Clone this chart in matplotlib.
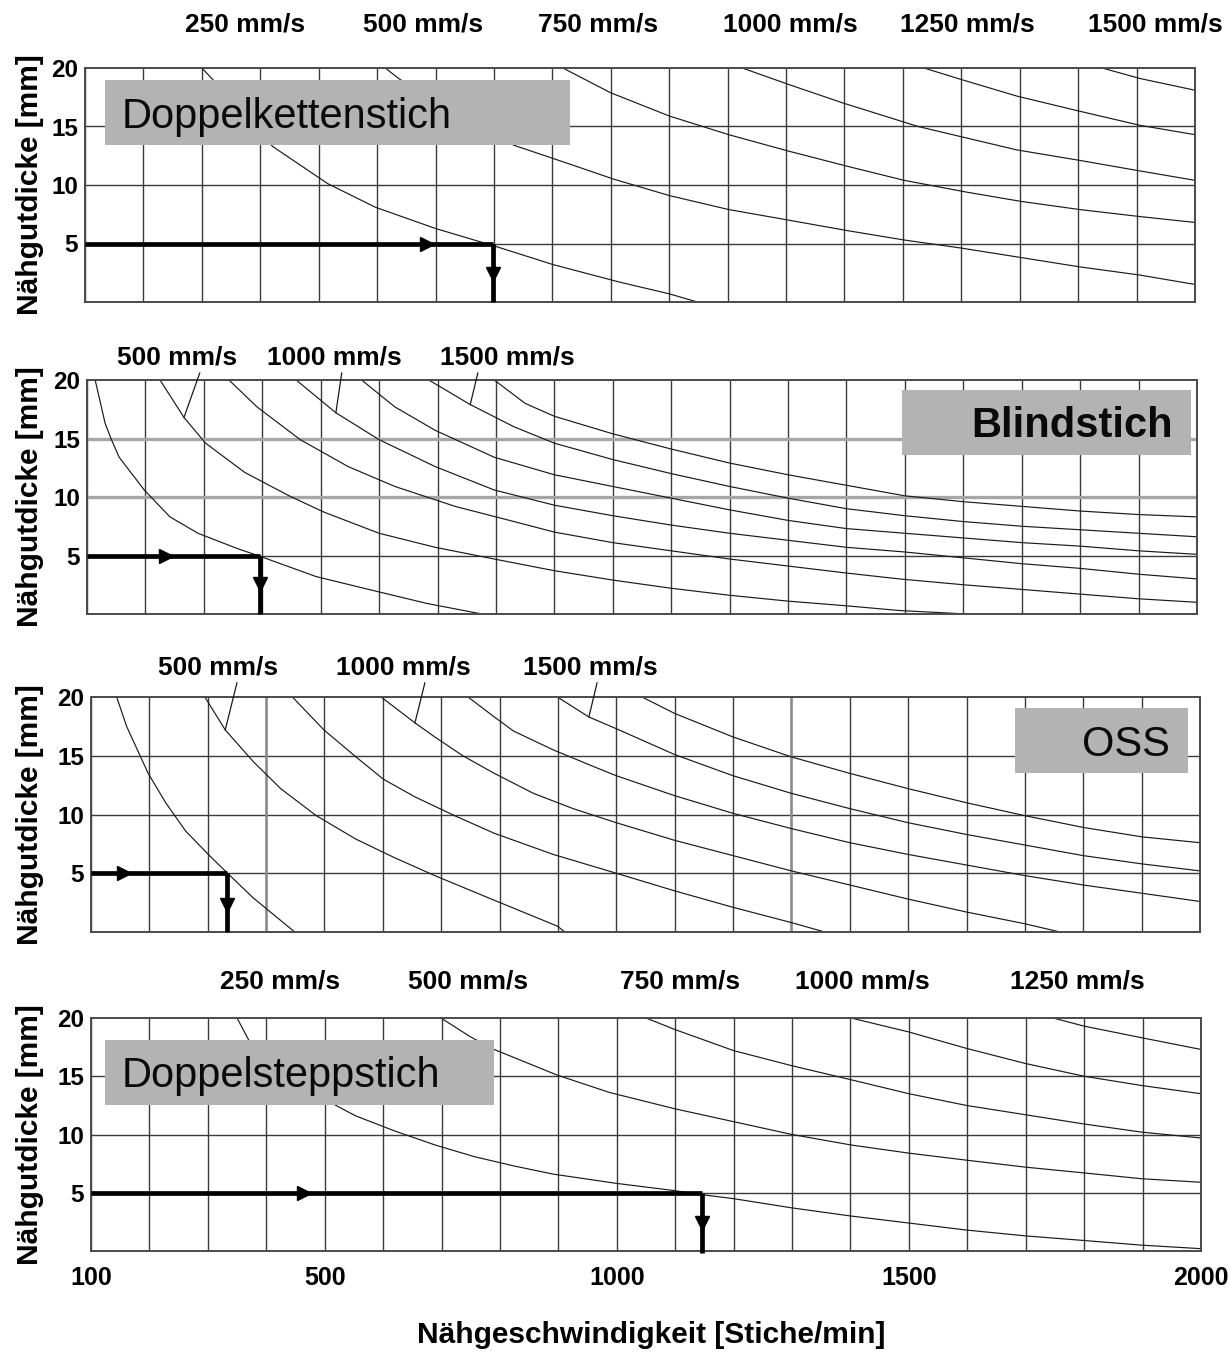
import matplotlib
matplotlib.use("Agg")
import matplotlib.pyplot as plt
from matplotlib.patches import Rectangle
import numpy as np

plt.rcParams["font.family"] = ["Liberation Sans", "DejaVu Sans"]

# axes: Nähgeschwindigkeit [Stiche/min] vs. Nähgutdicke [mm]
X_TICKS = [100, 500, 1000, 1500, 2000]
Y_TICKS = [5, 10, 15, 20]

# --- Doppelkettenstich: iso-speed curves (mm/s)
dks_speeds = [250, 500, 750, 1000, 1250, 1500]
dks_n = [
    [300, 319, 421, 516, 597, 699, 766, 800, 901, 1015, 1100, 1148],
    [614, 637, 700, 834, 929, 1005, 1100, 1202, 1304, 1405, 1502, 1601, 1702, 1803, 1906, 2000],
    [918, 999, 1100, 1202, 1304, 1405, 1502, 1608, 1702, 1803, 1906, 2000],
    [1225, 1304, 1398, 1526, 1695, 1803, 1906, 2000],
    [1536, 1601, 1695, 1803, 1906, 2000],
    [1841, 1906, 2000],
]
dks_t = [
    [20, 19.0, 13.3, 10.1, 8.1, 6.3, 5.3, 4.8, 3.2, 1.7, 0.7, 0],
    [20, 19.1, 17.0, 13.4, 11.8, 10.5, 9.1, 7.9, 7.0, 6.1, 5.3, 4.6, 3.8, 3.0, 2.3, 1.5],
    [20, 17.9, 15.9, 14.3, 12.9, 11.6, 10.4, 9.4, 8.6, 7.9, 7.3, 6.8],
    [20, 18.6, 17.0, 15.0, 13.0, 12.1, 11.2, 10.4],
    [20, 19.0, 17.6, 16.3, 15.1, 14.3],
    [20, 19.1, 18.1],
]
dks_label_n = [374, 679, 978, 1307, 1610, 1932]

# --- Blindstich
bs_speeds = [250, 500, 750, 1000, 1250, 1500, 1750]
bs_n = [
    [114, 131, 141, 155, 198, 242, 290, 357, 398, 492, 574, 682, 776],
    [225, 266, 303, 370, 446, 506, 600, 696, 797, 900, 1000, 1100, 1200, 1300, 1400, 1490, 1606],
    [343, 391, 465, 547, 627, 730, 831, 900, 1000, 1100, 1200, 1300, 1400, 1490, 1600, 1700, 1800, 1900, 2000],
    [458, 526, 600, 696, 797, 900, 1000, 1100, 1200, 1300, 1400, 1500, 1600, 1700, 1800, 1900, 2000],
    [570, 627, 696, 797, 900, 1000, 1100, 1200, 1300, 1400, 1500, 1600, 1700, 1800, 1900, 2000],
    [685, 756, 831, 900, 1000, 1100, 1200, 1300, 1400, 1500, 1600, 1700, 1800, 1900, 2000],
    [797, 850, 900, 1000, 1100, 1200, 1300, 1400, 1500, 1600, 1700, 1800, 1900, 2000],
]
bs_t = [
    [20, 16.3, 15.0, 13.4, 10.6, 8.3, 6.9, 5.6, 4.9, 3.2, 2.2, 0.9, 0],
    [20, 16.8, 14.6, 12.1, 10.1, 8.7, 6.9, 5.7, 4.7, 3.7, 2.9, 2.2, 1.6, 1.1, 0.7, 0.3, 0],
    [20, 17.7, 14.9, 12.6, 10.9, 9.2, 7.9, 7.0, 6.1, 5.4, 4.7, 4.1, 3.5, 3.0, 2.5, 2.1, 1.7, 1.3, 1.0],
    [20, 17.2, 14.9, 12.6, 10.6, 9.3, 8.4, 7.6, 6.9, 6.3, 5.7, 5.3, 4.8, 4.3, 3.9, 3.4, 3.0],
    [20, 17.7, 15.7, 13.4, 11.9, 10.9, 9.9, 8.9, 8.0, 7.3, 6.9, 6.5, 6.1, 5.8, 5.4, 5.1],
    [20, 17.9, 16.0, 14.6, 13.2, 12.0, 10.9, 9.9, 9.0, 8.4, 7.9, 7.5, 7.2, 6.9, 6.6],
    [20, 18.0, 16.9, 15.4, 14.1, 12.9, 11.9, 11.0, 10.1, 9.6, 9.2, 8.8, 8.5, 8.3],
]
bs_label_speeds = [500, 1000, 1500]
bs_label_n = [254, 524, 819]
bs_leader_top_n = [293, 536, 769]
bs_leader_curve_n = [266, 526, 756]

# --- OSS
oss_speeds = [250, 500, 750, 1000, 1250, 1500, 1750]
oss_n = [
    [144, 161, 198, 228, 262, 303, 334, 378, 449],
    [295, 330, 378, 425, 486, 554, 621, 689, 791, 899, 912],
    [445, 499, 554, 601, 655, 723, 791, 892, 1000, 1100, 1200, 1300, 1357],
    [597, 655, 689, 737, 791, 858, 926, 1000, 1100, 1200, 1300, 1400, 1500, 1600, 1700, 1760],
    [746, 791, 824, 892, 960, 1000, 1100, 1200, 1300, 1400, 1500, 1600, 1700, 1800, 1900, 2000],
    [899, 953, 1000, 1100, 1200, 1300, 1400, 1500, 1600, 1700, 1800, 1900, 2000],
    [1044, 1100, 1200, 1300, 1400, 1500, 1600, 1700, 1800, 1900, 2000],
]
oss_t = [
    [20, 17.5, 13.5, 11.0, 8.6, 6.5, 5.0, 2.9, 0],
    [20, 17.2, 14.5, 12.2, 9.9, 7.9, 6.3, 4.8, 2.7, 0.5, 0],
    [20, 17.2, 14.9, 13.0, 11.5, 9.9, 8.4, 6.6, 5.0, 3.5, 2.1, 0.8, 0],
    [20, 17.8, 16.6, 15.0, 13.5, 11.8, 10.5, 9.3, 7.8, 6.5, 5.2, 4.0, 2.8, 1.7, 0.7, 0],
    [20, 18.3, 17.1, 15.5, 14.1, 13.3, 11.6, 10.1, 8.8, 7.6, 6.6, 5.7, 4.8, 4.0, 3.3, 2.6],
    [20, 18.3, 17.3, 15.1, 13.3, 11.8, 10.5, 9.3, 8.3, 7.4, 6.5, 5.8, 5.2],
    [20, 18.6, 16.6, 14.9, 13.5, 12.2, 11.0, 9.9, 8.9, 8.1, 7.6],
]
oss_label_speeds = [500, 1000, 1500]
oss_label_n = [318, 636, 955]
oss_leader_top_n = [350, 672, 967]
oss_leader_curve_n = [330, 655, 953]

# --- Doppelsteppstich
dss_speeds = [250, 500, 750, 1000, 1250]
dss_n = [
    [350, 370, 519, 553, 620, 689, 756, 824, 891, 1000, 1096, 1151, 1199, 1300, 1401, 1500, 1598, 1699, 1800, 1899, 2000],
    [699, 749, 790, 898, 988, 1100, 1200, 1300, 1401, 1500, 1598, 1699, 1800, 1899, 2000],
    [1050, 1100, 1200, 1300, 1401, 1500, 1598, 1699, 1800, 1899, 2000],
    [1401, 1500, 1598, 1699, 1800, 1899, 2000],
    [1747, 1800, 1899, 2000],
]
dss_t = [
    [20, 18.1, 12.5, 11.6, 10.3, 9.1, 8.1, 7.3, 6.6, 5.8, 5.2, 4.8, 4.5, 3.7, 3.0, 2.4, 1.8, 1.3, 0.9, 0.5, 0.2],
    [20, 18.4, 17.3, 15.1, 13.6, 12.2, 11.1, 10.0, 9.1, 8.4, 7.8, 7.2, 6.7, 6.2, 5.9],
    [20, 19.0, 17.2, 15.9, 14.7, 13.5, 12.5, 11.7, 10.9, 10.2, 9.7],
    [20, 18.8, 17.4, 16.1, 15.0, 14.2, 13.5],
    [20, 19.3, 18.3, 17.3],
]
dss_label_n = [424, 745, 1108, 1420, 1788]

# worked example: 5 mm material -> max stitches/min
EXAMPLE_T = 5
example_n = [798, 396, 333, 1146]
example_head_n = [685, 235, 157, 465]
example_head_t = [2.4, 2.6, 2.3, 2.4]

GRID = "#3a3a3a"
BOX = "#b3b3b3"
LBL = dict(fontsize=19, fontweight="bold", ha="center", va="center")


def setup_axes(ax, light_h=(), light_v=()):
    ax.set_xlim(100, 2000)
    ax.set_ylim(0, 20)
    ax.vlines(np.arange(100, 2001, 100), 0, 20, color=GRID, lw=1.0, zorder=1)
    ax.hlines(np.arange(5, 20, 5), 100, 2000, color=GRID, lw=1.0, zorder=1)
    if light_h:
        ax.hlines(light_h, 100, 2000, color="#a6a6a6", lw=2.4, zorder=1.5)
    if light_v:
        ax.vlines(light_v, 0, 20, color="#8c8c8c", lw=1.8, zorder=1.5)
    for s in ax.spines.values():
        s.set_color("#4a4a4a")
        s.set_linewidth(1.4)
    ax.set_yticks(Y_TICKS)
    ax.set_yticklabels([str(v) for v in Y_TICKS], fontsize=17.5, fontweight="bold")
    ax.tick_params(axis="both", length=0, pad=5)
    ax.set_xticks(X_TICKS)
    ax.set_xticklabels([])


def draw_curves(ax, ns, ts):
    for n, t in zip(ns, ts):
        ax.plot(n, t, color="#1a1a1a", lw=0.85, zorder=2)


def draw_example(ax, i, below=0.0):
    n = example_n[i]
    ax.plot([100, n], [EXAMPLE_T, EXAMPLE_T], color="black", lw=3.4,
            solid_capstyle="butt", zorder=7, clip_on=False)
    ax.plot([n, n], [EXAMPLE_T, -below], color="black", lw=3.4,
            solid_capstyle="butt", zorder=7, clip_on=False)
    ax.plot(example_head_n[i], EXAMPLE_T, marker=">", ms=10, color="black", zorder=8)
    ax.plot(n, example_head_t[i], marker="v", ms=10, color="black", zorder=8)


def title_box(ax, x0, y0, x1, y1, text, tx, ty, ha, weight):
    ax.add_patch(Rectangle((x0, y0), x1 - x0, y1 - y0, transform=ax.transAxes,
                           facecolor=BOX, edgecolor="none", zorder=5))
    ax.text(tx, ty, text, transform=ax.transAxes, fontsize=30, fontweight=weight,
            ha=ha, va="baseline", color="#0a0a0a", zorder=6)


def leader_labels(ax, speeds, ns, ts, lab_speeds, lab_n, top_n, curve_n, lab_t, top_t):
    for sp, ln, tn, cn in zip(lab_speeds, lab_n, top_n, curve_n):
        k = speeds.index(sp)
        ct = np.interp(cn, ns[k], ts[k])
        ax.plot([tn, cn], [top_t, ct], color="#1a1a1a", lw=0.9, zorder=3, clip_on=False)
        ax.text(ln, lab_t, f"{sp} mm/s", clip_on=False, **LBL)


W, H = 1230, 1352
fig = plt.figure(figsize=(W / 100, H / 100), dpi=100)


def add_axes(x0, y0, x1, y1):
    return fig.add_axes([x0 / W, 1 - y1 / H, (x1 - x0) / W, (y1 - y0) / H])


ax1 = add_axes(85, 68, 1195, 302)
ax2 = add_axes(87, 380, 1197, 614)
ax3 = add_axes(91, 697, 1200, 932)
ax4 = add_axes(91, 1018, 1201, 1251)

# panel 1
setup_axes(ax1)
draw_curves(ax1, dks_n, dks_t)
for sp, n in zip(dks_speeds, dks_label_n):
    ax1.text(n, 23.7, f"{sp} mm/s", clip_on=False, **LBL)
title_box(ax1, 0.018, 0.671, 0.437, 0.949, "Doppelkettenstich", 0.033, 0.744, "left", "normal")
draw_example(ax1, 0)

# panel 2
setup_axes(ax2, light_h=[10, 15])
draw_curves(ax2, bs_n, bs_t)
leader_labels(ax2, bs_speeds, bs_n, bs_t, bs_label_speeds, bs_label_n,
              bs_leader_top_n, bs_leader_curve_n, 21.9, 20.6)
title_box(ax2, 0.734, 0.679, 0.995, 0.957, "Blindstich", 0.978, 0.758, "right", "bold")
draw_example(ax2, 1)

# panel 3
setup_axes(ax3, light_v=[400, 1300])
draw_curves(ax3, oss_n, oss_t)
leader_labels(ax3, oss_speeds, oss_n, oss_t, oss_label_speeds, oss_label_n,
              oss_leader_top_n, oss_leader_curve_n, 22.5, 21.2)
title_box(ax3, 0.833, 0.677, 0.989, 0.953, "OSS", 0.973, 0.750, "right", "normal")
draw_example(ax3, 2)

# panel 4
setup_axes(ax4)
draw_curves(ax4, dss_n, dss_t)
for sp, n in zip(dss_speeds, dss_label_n):
    ax4.text(n, 23.1, f"{sp} mm/s", clip_on=False, **LBL)
title_box(ax4, 0.0126, 0.627, 0.363, 0.906, "Doppelsteppstich", 0.028, 0.705, "left", "normal")
draw_example(ax4, 3, below=0.2)
ax4.set_xticklabels([str(v) for v in X_TICKS], fontsize=18, fontweight="bold")
ax4.tick_params(axis="x", pad=11)

for ax, (ya, yb) in zip([ax1, ax2, ax3, ax4], [(68, 302), (380, 614), (697, 932), (1018, 1251)]):
    fig.text(30 / W, 1 - (ya + yb) / 2 / H, "Nähgutdicke [mm]", rotation=90,
             ha="center", va="center", fontsize=21.5, fontweight="bold")

fig.text(651 / W, 1 - 1335 / H, "Nähgeschwindigkeit [Stiche/min]",
         ha="center", va="center", fontsize=21.5, fontweight="bold")

fig.savefig("out.png", dpi=100, facecolor="white")
